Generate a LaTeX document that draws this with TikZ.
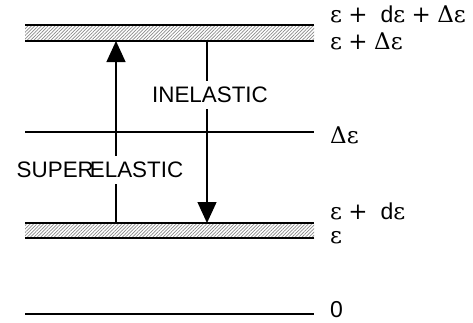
\documentclass[tikz,border=0pt]{standalone}
\usepackage{fontspec}
\setmainfont{Liberation Sans}
\newfontfamily\greekfont{DejaVu Serif}
\usetikzlibrary{arrows.meta,patterns.meta,positioning}
\definecolor{HatchGrey}{HTML}{8A8A8A}
\newcommand{\eps}{{\greekfont ε}}
\newcommand{\Dlt}{{\greekfont Δ}}
\newcommand{\pl}{{\greekfont +}}

\begin{document}
\begin{tikzpicture}[x=1pt,y=-1pt,
  level/.style={line width=1.7pt},
  band/.style={pattern={Lines[angle=45,distance=2.4pt,line width=0.7pt]},pattern color=HatchGrey},
  lbl/.style={anchor=west,inner sep=0pt,font=\fontsize{23}{26}\selectfont},
  proc/.style={fill=white,inner xsep=1pt,inner ysep=6pt,font=\fontsize{22.4}{26}\selectfont},
  trans/.style={line width=1.3pt,-{Triangle[width=19pt,length=21pt]}}]
\useasboundingbox (0,0) rectangle (473,322);
% upper band
\fill[band] (25,25) rectangle (314,41);
\draw[level] (25,25) -- (314,25);
\draw[level] (25,41) -- (314,41);
% lower band
\fill[band] (25,223) rectangle (314,238);
\draw[level] (25,223) -- (314,223);
\draw[level] (25,238) -- (314,238);
% single levels
\draw[level] (25,132) -- (314,132);
\draw[level] (25,314) -- (314,314);
% ends of the transitions
\coordinate (sup-from) at (116,223);
\coordinate (sup-to) at (116,41);
\coordinate (inel-from) at (207,42);
\coordinate (inel-to) at (207,223);
\draw[trans] (sup-from) -- (sup-to);
\draw[trans] (inel-from) -- (inel-to);
\node[proc] (inel) at (210,95) {INELASTIC};
\node[proc] (super) at (100,170) {SUPER\kern-4pt ELASTIC};
% energies
\node[lbl] (e-top) at (330,14) {\eps\ \pl\ \ d\eps\ \pl\ \Dlt\eps};
\node[lbl] (e-up) at (330,41) {\eps\ \pl\ \Dlt\eps};
\node[lbl] (e-mid) at (330,135) {\Dlt\eps};
\node[lbl] (e-low) at (330,211) {\eps\ \pl\ \ d\eps};
\node[lbl] (e-base) at (330,238) {\eps};
\node[lbl] (e-zero) at (330,310) {0};
\end{tikzpicture}
\end{document}
